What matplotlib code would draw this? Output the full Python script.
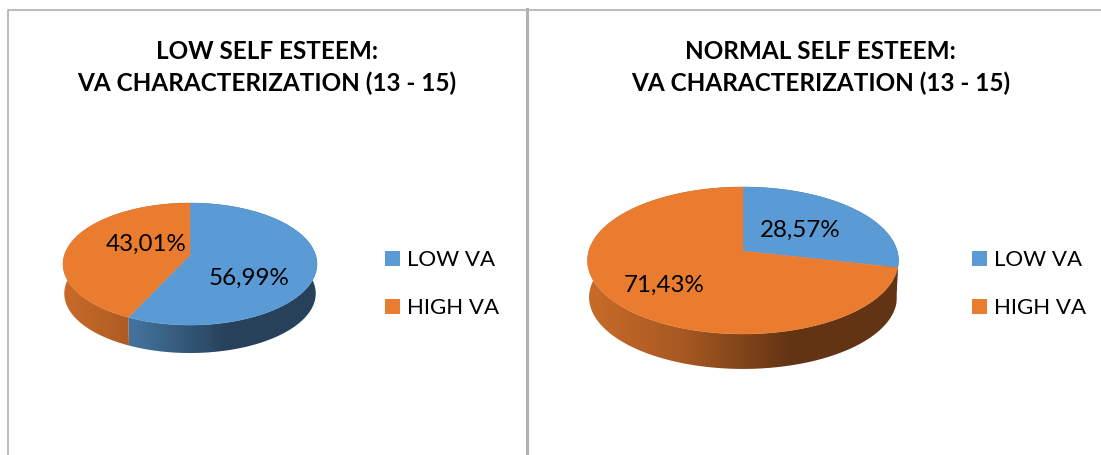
import numpy as np
import matplotlib
matplotlib.use('Agg')
import matplotlib.pyplot as plt
from matplotlib.patches import Polygon, Rectangle

# data
categories = ['LOW VA', 'HIGH VA']
low_esteem = [56.99, 43.01]
normal_esteem = [28.57, 71.43]
title_low = 'LOW SELF ESTEEM:\nVA CHARACTERIZATION (13 - 15)'
title_normal = 'NORMAL SELF ESTEEM:\nVA CHARACTERIZATION (13 - 15)'

colors = ['#5B9BD5', '#EA7C30']
frame_color = '#A9A9A9'

plt.rcParams['font.family'] = ['Lato', 'DejaVu Sans']

fig = plt.figure(figsize=(11.01, 4.56), dpi=100)
ax = fig.add_axes([0, 0, 1, 1])
ax.axis('off')


def project(phi, geo, floor=False):
    """Tilted disc to pixels, phi runs clockwise from 12 o'clock"""
    u = np.sin(phi)
    v = -np.cos(phi)
    w = 1 - geo['p'] * v
    x = geo['sx'] * u / w
    y = geo['sy'] * v / w
    if floor:
        return geo['cx'] + x * 0.99, geo['cy'] + y * 0.975 + geo['depth']
    return geo['cx'] + x, geo['cy'] + y


def wall_gradient(color, n=256):
    """Side wall shading, goes darker left to right then stays flat"""
    rgb = np.array(matplotlib.colors.to_rgb(color))
    frac = np.linspace(0, 1, n)
    shade = np.interp(frac, [0, 0.3, 0.65, 1], [0.86, 0.72, 0.42, 0.42])
    return (shade[:, None] * rgb)[None, :, :]


def draw_pie(values, geo, title, title_x, labels_xy, legend_x):
    edges = np.cumsum([0] + values) / sum(values) * 2 * np.pi
    left = geo['cx'] - geo['sx'] * 1.012
    right = geo['cx'] + geo['sx'] * 1.012

    for i, color in enumerate(colors):
        phi = np.linspace(edges[i], edges[i + 1], 200)
        xt, yt = project(phi, geo)
        xb, yb = project(phi, geo, floor=True)
        wall = Polygon(np.column_stack([np.r_[xt, xb[::-1]], np.r_[yt, yb[::-1]]]),
                       closed=True, fc='none', ec='none', transform=ax.transData)
        ax.add_patch(wall)
        im = ax.imshow(wall_gradient(color), extent=(left, right, geo['cy'] + 140, geo['cy'] - 70),
                       aspect='auto', interpolation='bilinear', zorder=2)
        im.set_clip_path(wall)

    for i, color in enumerate(colors):
        phi = np.linspace(edges[i], edges[i + 1], 200)
        xt, yt = project(phi, geo)
        ax.fill(np.r_[geo['cx'], xt], np.r_[geo['cy'], yt], color=color, lw=0.3, zorder=3)
        label = f'{values[i]:.2f}'.replace('.', ',') + '%'
        ax.text(labels_xy[i][0], labels_xy[i][1], label, fontsize=17.4, color='black',
                ha='center', va='center', zorder=4)

    ax.text(title_x, 67.5, title, fontsize=17.5, fontweight='bold', color='black',
            ha='center', va='center', linespacing=1.45, zorder=4)

    for i, name in enumerate(categories):
        y = 259.5 + i * 48
        ax.add_patch(Rectangle((legend_x, y - 7.5), 15, 15, fc=colors[i], ec='none', zorder=4))
        ax.text(legend_x + 22, y + 1, name, fontsize=16.0, color='black', ha='left', va='center', zorder=4)


# panel frames
ax.plot([8, 8, 1101], [456, 10.5, 10.5], color=frame_color, lw=1.1, zorder=1)
ax.plot([526.5, 526.5], [10, 456], color='#B2B2B2', lw=2.2, zorder=1)

draw_pie(low_esteem, dict(cx=190, cy=256, sx=125.6, sy=59.7, p=0.148, depth=29.7),
         title_low, 266.5, [(249, 278), (146, 244)], 385)
draw_pie(normal_esteem, dict(cx=743, cy=252, sx=154.2, sy=72.3, p=0.129, depth=37),
         title_normal, 820.5, [(800, 230), (664, 285)], 972)

ax.set_xlim(0, 1101)
ax.set_ylim(456, 0)

fig.savefig('out.png', dpi=100, facecolor='white')
